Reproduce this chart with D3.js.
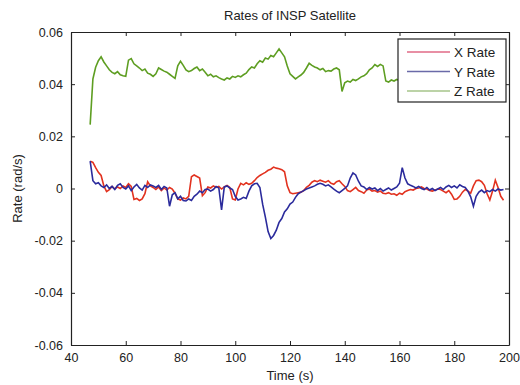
<!DOCTYPE html>
<html>
<head>
<meta charset="utf-8">
<script src="https://cdn.jsdelivr.net/npm/d3@7"></script>
<style>
  html, body { margin: 0; padding: 0; background: #fff; }
  svg { display: block; font-family: "Liberation Sans", Arial, sans-serif; }
</style>
</head>
<body>
<svg id="chart" width="520" height="385"></svg>
<script>
// ---- data ----
const times = d3.range(47, 199); // 47 .. 198 s, 1 s step
const seriesNames = ["X Rate", "Y Rate", "Z Rate"];
const xTicks = [40, 60, 80, 100, 120, 140, 160, 180, 200];
const yTicks = [-0.06, -0.04, -0.02, 0, 0.02, 0.04, 0.06];
const yTickLabels = ["-0.06", "-0.04", "-0.02", "0", "0.02", "0.04", "0.06"];

const xRate = [
  0.0105, 0.0100, 0.0080, 0.0062, 0.0050, 0.0010, -0.0012, -0.0004, 0.0008, -0.0002,
  0.0006, 0.0000, 0.0010, 0.0004, 0.0018, 0.0008, -0.0042, -0.0038, -0.0046, -0.0040,
  -0.0020, 0.0026, 0.0010, 0.0004, -0.0004, 0.0006, -0.0008, 0.0002, -0.0006, 0.0004,
  -0.0002, -0.0018, -0.0040, -0.0044, -0.0036, -0.0040, -0.0030, 0.0045, 0.0052, 0.0046,
  0.0040, -0.0028, -0.0016, 0.0006, 0.0002, 0.0010, 0.0004, 0.0008, -0.0002, 0.0006,
  0.0012, 0.0004, -0.0040, -0.0044, -0.0002, 0.0020, 0.0014, 0.0022, 0.0016, 0.0020,
  0.0030, 0.0042, 0.0050, 0.0056, 0.0062, 0.0070, 0.0074, 0.0082, 0.0078, 0.0076,
  0.0072, 0.0064, 0.0010, -0.0016, -0.0020, -0.0018, -0.0016, -0.0014, -0.0008, 0.0004,
  0.0012, 0.0024, 0.0030, 0.0026, 0.0032, 0.0028, 0.0024, 0.0030, 0.0020, 0.0016,
  0.0026, 0.0030, 0.0018, 0.0008, -0.0008, -0.0012, -0.0004, 0.0004, -0.0008, -0.0012,
  -0.0018, -0.0006, -0.0002, -0.0010, -0.0008, -0.0014, -0.0010, -0.0018, -0.0020, -0.0016,
  -0.0022, -0.0020, -0.0026, -0.0018, -0.0022, -0.0012, -0.0008, -0.0004, -0.0006, 0.0000,
  0.0002, 0.0006, 0.0000, -0.0002, -0.0008, -0.0010, -0.0006, -0.0002, -0.0004, -0.0010,
  -0.0016, -0.0008, -0.0022, -0.0042, -0.0040, -0.0030, -0.0014, -0.0004, -0.0010, -0.0018,
  0.0010, 0.0030, 0.0032, 0.0026, 0.0012, -0.0020, -0.0044, -0.0010, 0.0032, 0.0004,
  -0.0030, -0.0045
];

const yRate = [
  0.0105, 0.0030, 0.0018, 0.0022, 0.0010, 0.0004, 0.0014, 0.0000, 0.0008, -0.0004,
  0.0012, 0.0018, 0.0004, -0.0002, 0.0010, -0.0008, 0.0006, 0.0016, 0.0002, -0.0006,
  0.0012, 0.0004, 0.0014, 0.0010, 0.0004, 0.0012, -0.0004, 0.0008, 0.0002, -0.0068,
  -0.0024, -0.0016, -0.0040, -0.0030, -0.0046, -0.0048, -0.0040, -0.0046, -0.0030, -0.0022,
  -0.0010, -0.0016, -0.0004, -0.0002, -0.0010, -0.0004, 0.0008, 0.0002, -0.0082, 0.0006,
  0.0010, 0.0002, -0.0004, -0.0030, -0.0044, -0.0040, -0.0034, -0.0038, -0.0010, 0.0010,
  0.0018, 0.0020, 0.0004, -0.0060, -0.0110, -0.0165, -0.0192, -0.0180, -0.0160, -0.0130,
  -0.0115, -0.0090, -0.0078, -0.0060, -0.0052, -0.0034, -0.0020, -0.0014, -0.0008, -0.0002,
  0.0002, 0.0006, 0.0010, 0.0016, 0.0020, 0.0016, 0.0010, 0.0014, 0.0006, -0.0002,
  -0.0010, -0.0016, -0.0008, 0.0000, 0.0010, 0.0040, 0.0060, 0.0052, 0.0028, 0.0010,
  0.0006, -0.0004, 0.0004, -0.0002, 0.0002, -0.0008, 0.0000, -0.0010, -0.0004, 0.0002,
  -0.0006, 0.0000, 0.0006, 0.0020, 0.0080, 0.0040, 0.0018, 0.0012, 0.0008, 0.0002,
  0.0008, 0.0000, -0.0004, 0.0004, -0.0006, 0.0000, -0.0008, -0.0002, 0.0004, -0.0004,
  0.0006, 0.0012, 0.0004, 0.0010, 0.0002, 0.0014, 0.0008, 0.0004, -0.0010, -0.0032,
  -0.0068, -0.0030, -0.0014, -0.0006, -0.0016, -0.0008, -0.0012, -0.0004, -0.0010, -0.0002,
  -0.0006, -0.0004
];

const zRate = [
  0.0245, 0.0420, 0.0465, 0.0490, 0.0505, 0.0485, 0.0470, 0.0455, 0.0445, 0.0440,
  0.0448, 0.0436, 0.0432, 0.0430, 0.0492, 0.0498, 0.0478, 0.0470, 0.0462, 0.0452,
  0.0458, 0.0442, 0.0438, 0.0430, 0.0440, 0.0462, 0.0456, 0.0450, 0.0446, 0.0438,
  0.0430, 0.0422, 0.0470, 0.0488, 0.0472, 0.0455, 0.0448, 0.0452, 0.0460, 0.0466,
  0.0452, 0.0458, 0.0446, 0.0432, 0.0438, 0.0428, 0.0432, 0.0425, 0.0420, 0.0416,
  0.0424, 0.0420, 0.0430, 0.0426, 0.0432, 0.0428, 0.0436, 0.0442, 0.0456, 0.0466,
  0.0462, 0.0478, 0.0490, 0.0484, 0.0500, 0.0496, 0.0510, 0.0505, 0.0520, 0.0535,
  0.0520, 0.0505, 0.0470, 0.0440, 0.0430, 0.0420, 0.0428, 0.0435, 0.0445, 0.0462,
  0.0480, 0.0472, 0.0466, 0.0462, 0.0455, 0.0460, 0.0448, 0.0452, 0.0450, 0.0458,
  0.0462, 0.0455, 0.0372, 0.0405, 0.0412, 0.0408, 0.0418, 0.0414, 0.0420, 0.0428,
  0.0432, 0.0440, 0.0455, 0.0462, 0.0475, 0.0468, 0.0476, 0.0470, 0.0412, 0.0408,
  0.0416, 0.0412, 0.0418, 0.0414, 0.0410, 0.0412, 0.0408, 0.0412, 0.0410, 0.0414,
  0.0410, 0.0412, 0.0408, 0.0410, 0.0412, 0.0410, 0.0414, 0.0410, 0.0408, 0.0412,
  0.0410, 0.0412, 0.0410, 0.0408, 0.0412, 0.0410, 0.0412, 0.0410, 0.0414, 0.0410,
  0.0412, 0.0410, 0.0408, 0.0410, 0.0412, 0.0410, 0.0410, 0.0412, 0.0410, 0.0410,
  0.0410, 0.0410
];

const seriesValues = [xRate, yRate, zRate];
const seriesColors = ["#e2321f", "#2b2b9c", "#5e9e22"];
const legendColors = ["#e06a86", "#6a6aa8", "#a6c48a"];

// ---- layout ----
const svg = d3.select("#chart");
const L = 71, R = 509, T = 32, B = 345;

const x = d3.scaleLinear().domain([40, 200]).range([L, R]);
const y = d3.scaleLinear().domain([-0.06, 0.06]).range([B, T]);

// lines
const line = d3.line().x((d, i) => x(times[i])).y(d => y(d));
const g = svg.append("g");
seriesValues.forEach((vals, k) => {
  g.append("path")
    .datum(vals)
    .attr("fill", "none")
    .attr("stroke", seriesColors[k])
    .attr("stroke-width", 1.6)
    .attr("stroke-linejoin", "miter")
    .attr("d", line);
});

// axes (inward ticks, box)
const axisStyle = sel => {
  sel.selectAll("path").attr("stroke", "#222").attr("stroke-width", 1.2);
  sel.selectAll("line").attr("stroke", "#222").attr("stroke-width", 1);
  sel.selectAll("text").attr("fill", "#222").style("font-size", "12.5px");
};

svg.append("g").attr("transform", `translate(0,${B})`)
  .call(d3.axisBottom(x).tickValues(xTicks).tickSizeInner(-4).tickSizeOuter(0).tickPadding(8).tickFormat(d3.format("d")))
  .call(axisStyle);
svg.append("g").attr("transform", `translate(0,${T})`)
  .call(d3.axisTop(x).tickValues(xTicks).tickSizeInner(-4).tickSizeOuter(0).tickFormat(""))
  .call(axisStyle);
svg.append("g").attr("transform", `translate(${L},0)`)
  .call(d3.axisLeft(y).tickValues(yTicks).tickSizeInner(-4).tickSizeOuter(0).tickPadding(8)
    .tickFormat((d, i) => yTickLabels[i]))
  .call(axisStyle);
svg.append("g").attr("transform", `translate(${R},0)`)
  .call(d3.axisRight(y).tickValues(yTicks).tickSizeInner(-4).tickSizeOuter(0).tickFormat(""))
  .call(axisStyle);

// titles
svg.append("text").attr("x", (L + R) / 2).attr("y", 20).attr("text-anchor", "middle")
  .style("font-size", "13px").attr("fill", "#222").text("Rates of INSP Satellite");
svg.append("text").attr("x", (L + R) / 2).attr("y", 380).attr("text-anchor", "middle")
  .style("font-size", "13px").attr("fill", "#222").text("Time (s)");
svg.append("text").attr("transform", `translate(22,${(T + B) / 2}) rotate(-90)`)
  .attr("text-anchor", "middle").style("font-size", "13px").attr("fill", "#222").text("Rate (rad/s)");

// legend
const lg = svg.append("g");
lg.append("rect").attr("x", 398).attr("y", 39).attr("width", 108).attr("height", 63)
  .attr("fill", "#fff").attr("stroke", "#222").attr("stroke-width", 1.2);
seriesNames.forEach((name, k) => {
  const yy = 52 + k * 19.5;
  lg.append("line").attr("x1", 407).attr("x2", 450).attr("y1", yy).attr("y2", yy)
    .attr("stroke", legendColors[k]).attr("stroke-width", 1.4);
  lg.append("text").attr("x", 454).attr("y", yy + 5).style("font-size", "13.5px")
    .attr("fill", "#222").text(name);
});
</script>
</body>
</html>
